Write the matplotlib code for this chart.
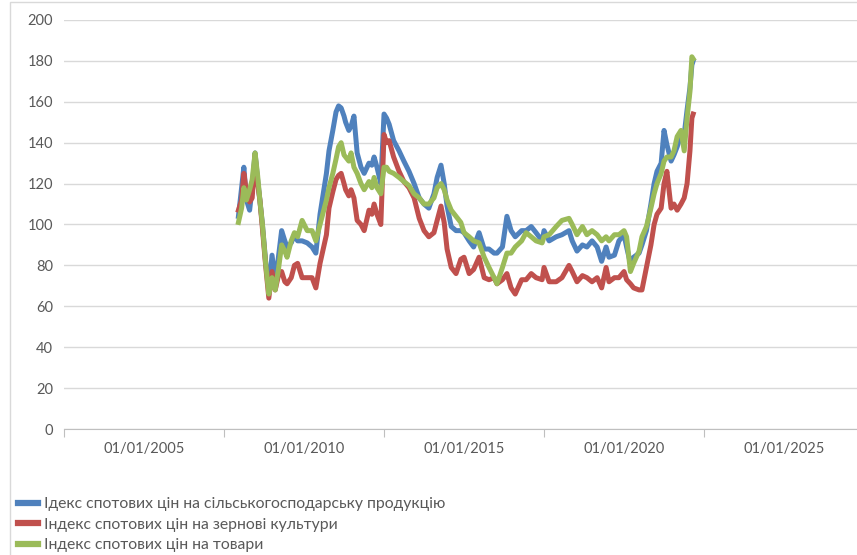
import matplotlib
matplotlib.use('Agg')
import matplotlib.pyplot as plt
from matplotlib.patches import Rectangle

plt.rcParams['font.family'] = ['Lato', 'DejaVu Sans']

# dates as decimal years
years = [
    2007.95, 2008.05, 2008.12, 2008.2, 2008.3, 2008.38, 2008.47, 2008.55, 2008.62, 2008.7,
    2008.8, 2008.9, 2009.0, 2009.1, 2009.2, 2009.3, 2009.4, 2009.47, 2009.6, 2009.7,
    2009.8, 2009.94, 2010.1, 2010.25, 2010.37, 2010.5, 2010.6, 2010.7, 2010.78, 2010.9,
    2011.0, 2011.08, 2011.16, 2011.25, 2011.3, 2011.4, 2011.47, 2011.56, 2011.66, 2011.78,
    2011.88, 2012.03, 2012.12, 2012.19, 2012.28, 2012.4, 2012.5, 2012.58, 2012.66, 2012.8,
    2012.97, 2013.12, 2013.28, 2013.44, 2013.6, 2013.75, 2013.9, 2014.06, 2014.16, 2014.28,
    2014.38, 2014.47, 2014.6, 2014.75, 2014.9, 2015.0, 2015.16, 2015.3, 2015.47, 2015.63,
    2015.78, 2015.94, 2016.03, 2016.2, 2016.34, 2016.47, 2016.6, 2016.8, 2016.94, 2017.1,
    2017.25, 2017.44, 2017.5, 2017.66, 2017.88, 2018.06, 2018.28, 2018.38, 2018.53, 2018.7,
    2018.84, 2019.0, 2019.16, 2019.3, 2019.44, 2019.53, 2019.7, 2019.84, 2020.0, 2020.08,
    2020.2, 2020.3, 2020.47, 2020.56, 2020.7, 2020.84, 2020.94, 2021.03, 2021.16, 2021.25,
    2021.34, 2021.47, 2021.56, 2021.66, 2021.78, 2021.88, 2021.97, 2022.06, 2022.12, 2022.16,
]

agri = [
    104, 118, 128, 112, 107, 118, 135, 122, 112, 100,
    82, 68, 85, 72, 84, 97, 92, 89, 91, 95,
    92, 92, 91, 89, 86, 105, 115, 125, 136, 146,
    155, 158, 157, 153, 150, 146, 148, 153, 135, 128,
    125, 130, 129, 133, 128, 120, 154, 152, 149, 141,
    136, 131, 126, 120, 113, 110, 108, 115, 123, 129,
    120, 109, 99, 97, 97, 96, 92, 89, 96, 88,
    88, 86, 86, 89, 104, 97, 94, 97, 97, 99,
    96, 92, 97, 92, 94, 95, 97, 92, 87, 90,
    89, 92, 89, 82, 89, 84, 85, 92, 95, 89,
    81, 84, 86, 90, 97, 110, 120, 126, 130, 146,
    139, 131, 134, 138, 144, 144, 156, 167, 178, 180,
]

grain = [
    107, 112, 125, 116, 111, 113, 134, 120, 112, 98,
    80, 64, 77, 68, 75, 77, 72, 71, 74, 80,
    81, 74, 74, 74, 69, 81, 88, 95, 108, 116,
    122, 124, 125, 120, 117, 114, 117, 113, 102, 100,
    97, 107, 105, 110, 105, 100, 144, 140, 141, 133,
    126, 121, 118, 113, 103, 97, 94, 96, 102, 109,
    101, 88, 79, 76, 83, 84, 76, 78, 84, 74,
    73, 74, 71, 73, 76, 69, 66, 73, 73, 76,
    74, 73, 79, 72, 72, 74, 80, 77, 72, 75,
    74, 72, 74, 69, 79, 72, 74, 74, 77, 73,
    71, 69, 68, 68, 79, 90, 100, 105, 108, 120,
    126, 108, 110, 107, 110, 113, 120, 136, 152, 154,
]

commod = [
    101, 108, 118, 112, 117, 122, 135, 124, 112, 100,
    81, 66, 74, 68, 78, 90, 87, 84, 92, 96,
    94, 102, 97, 97, 92, 100, 106, 112, 118, 125,
    132, 138, 140, 134, 133, 131, 135, 128, 125, 120,
    117, 121, 118, 123, 118, 115, 128, 128, 126, 125,
    123, 121, 119, 115, 113, 110, 110, 113, 118, 120,
    117, 112, 107, 104, 101, 96, 94, 92, 91, 84,
    79, 74, 71, 79, 86, 86, 89, 92, 96, 94,
    92, 91, 94, 95, 99, 102, 103, 100, 95, 99,
    95, 97, 95, 92, 94, 92, 95, 95, 97, 94,
    77, 81, 87, 94, 99, 108, 115, 120, 125, 131,
    133, 133, 136, 143, 146, 136, 152, 165, 182, 181,
]

labels = [
    'Ідекс спотових цін на сільськогосподарську продукцію',
    'Індекс спотових цін на зернові культури',
    'Індекс спотових цін на товари',
]
colors = ['#4F81BD', '#C0504D', '#9BBB59']

fig = plt.figure(figsize=(8.57, 5.55), dpi=100)
ax = fig.add_axes([0.0747, 0.227, 0.9253, 0.737])

for vals, lab, col in zip([agri, grain, commod], labels, colors):
    ax.plot(years, vals, color=col, lw=3.6, label=lab)

ax.set_xlim(2002.5, 2027.28)
ax.set_ylim(0, 200)
ax.set_yticks(range(0, 201, 20))
ax.grid(axis='y', color='#D9D9D9', lw=1)
ax.set_axisbelow(True)

# tick marks between the labels, like the Excel date axis
ax.set_xticks([2002.5, 2007.5, 2012.5, 2017.5, 2022.5])
ax.set_xticklabels([])
ax.set_xticks([2005, 2010, 2015, 2020, 2025], minor=True)
ax.set_xticklabels(['01/01/2005', '01/01/2010', '01/01/2015', '01/01/2020', '01/01/2025'], minor=True)
ax.tick_params(axis='x', which='major', length=6, color='#BFBFBF', direction='out')
ax.tick_params(axis='x', which='minor', length=0, pad=9, labelsize=10.5, labelcolor='#595959')
ax.tick_params(axis='y', length=0, pad=8, labelsize=10.5, labelcolor='#595959')

for s in ['top', 'right', 'left']:
    ax.spines[s].set_visible(False)
ax.spines['bottom'].set_color('#BFBFBF')

leg = fig.legend(loc='upper left', bbox_to_anchor=(0.021, 0.104), frameon=False,
                 borderaxespad=0, borderpad=0, handlelength=1.3, handletextpad=0.35,
                 labelspacing=0.42, fontsize=11.3, labelcolor='#595959')
for h in leg.legend_handles:
    h.set_linewidth(4.5)

fig.patches.append(Rectangle((0.0117, -0.1), 1.2, 1.097, transform=fig.transFigure,
                             fill=False, edgecolor='#D9D9D9', lw=1))

fig.savefig('out.png', dpi=100)
